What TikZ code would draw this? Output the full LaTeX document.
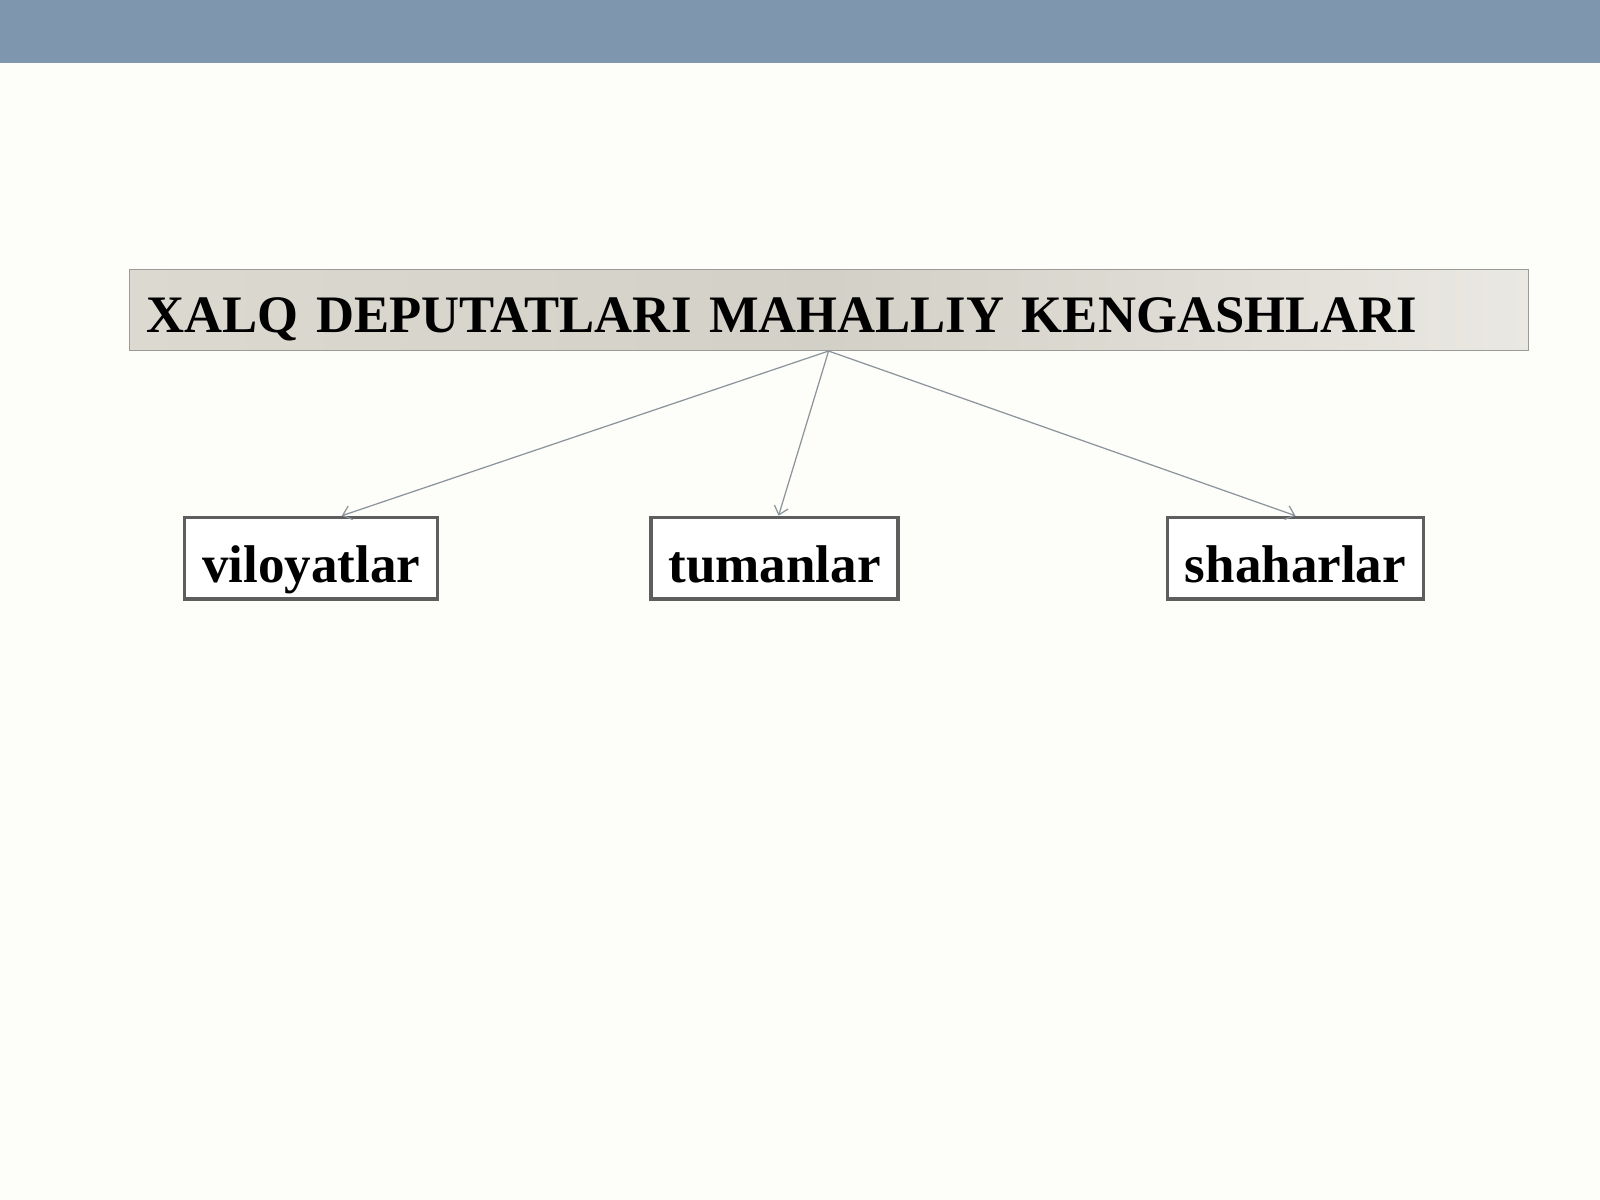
\documentclass[tikz,border=0pt]{standalone}
\usepackage{fontspec}
\setmainfont{Liberation Serif}
\usetikzlibrary{arrows.meta}
\definecolor{barblue}{HTML}{7F97AE}
\definecolor{bgpaper}{HTML}{FDFDF9}
\definecolor{boxedge}{HTML}{5E5E5E}
\definecolor{titleedge}{HTML}{9A9A96}
\definecolor{arrowgray}{HTML}{8C949B}
\definecolor{titleL}{HTML}{DCD9D1}
\definecolor{titleM}{HTML}{D3D0C7}
\definecolor{titleR}{HTML}{EAE8E2}
\tikzset{
  leafbox/.style={draw=boxedge, line width=1.6pt, fill=white, minimum height=40pt, inner sep=0pt,
    text height=24pt, text depth=0pt,
    font=\fontsize{26}{30}\selectfont\bfseries},
  titlebox/.style={draw=titleedge, line width=0.5pt, left color=titleL, right color=titleR, middle color=titleM,
    minimum height=39.5pt, text width=668.5pt, inner xsep=8.5pt, inner ysep=0pt,
    text height=21.5pt, text depth=0pt,
    align=left, anchor=north west, font=\fontsize{25.8}{30}\selectfont\bfseries},
  link/.style={draw=arrowgray, line width=0.6pt, -{Straight Barb[length=4pt,width=7pt]}}
}
\begin{document}
\begin{tikzpicture}[x=0.5pt,y=-0.5pt]
\useasboundingbox (0,0) rectangle (1568,1176);
\fill[bgpaper] (0,0) rectangle (1568,1176);
\fill[barblue] (0,0) rectangle (1568,62);
\node[titlebox] (title) at (126,264) {XALQ DEPUTATLARI MAHALLIY KENGASHLARI};
\node[leafbox, minimum width=124pt] (vil) at (305,547) {viloyatlar};
\node[leafbox, minimum width=121pt] (tum) at (759,547) {tumanlar};
\node[leafbox, minimum width=125.5pt] (sha) at (1269.5,547) {shaharlar};
\draw[link] (title.south) -- ([xshift=15pt]vil.north);
\draw[link] (title.south) -- ([xshift=2pt]tum.north);
\draw[link] (title.south) -- (sha.north);
\end{tikzpicture}
\end{document}
